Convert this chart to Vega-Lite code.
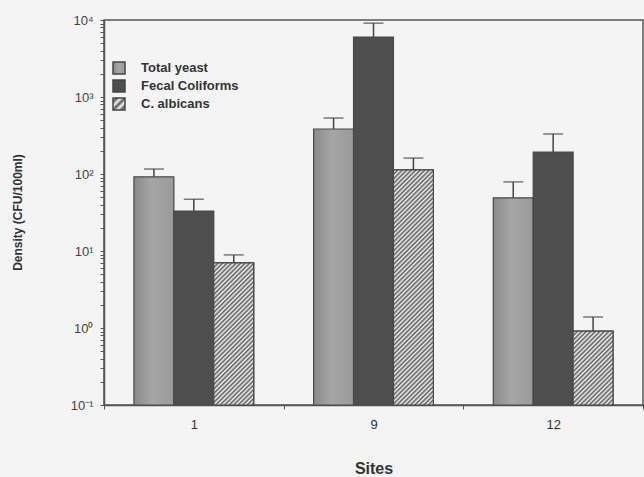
{
  "$schema": "https://vega.github.io/schema/vega-lite/v6.json",
  "width": 539,
  "height": 385,
  "autosize": "none",
  "padding": {"left": 104, "top": 20, "right": 1, "bottom": 72},
  "background": "#f4f4f4",
  "config": {
    "view": {"stroke": "#555", "strokeWidth": 1.5},
    "font": "Liberation Sans"
  },
  "params": [
    {"name": "yeastGrad", "value": {"gradient": "linear", "x1": 0, "y1": 0, "x2": 1, "y2": 0, "stops": [
      {"offset": 0, "color": "#8a8a8a"}, {"offset": 0.45, "color": "#a6a6a6"}, {"offset": 1, "color": "#9a9a9a"}]}},
    {"name": "legendHatch", "value": {"gradient": "linear", "x1": 0, "y1": 0, "x2": 1, "y2": 1, "stops": [
      {"offset": 0, "color": "#f2f2f2"}, {"offset": 0.1667, "color": "#5c5c5c"}, {"offset": 0.3333, "color": "#f2f2f2"},
      {"offset": 0.5, "color": "#5c5c5c"}, {"offset": 0.6667, "color": "#f2f2f2"}, {"offset": 0.8333, "color": "#5c5c5c"},
      {"offset": 1, "color": "#f2f2f2"}]}},
    {"name": "hatchStops", "value": [
      {"offset":0,"color":"#5c5c5c"},{"offset":0.0078,"color":"#f2f2f2"},{"offset":0.0156,"color":"#5c5c5c"},{"offset":0.0234,"color":"#f2f2f2"},
      {"offset":0.0313,"color":"#5c5c5c"},{"offset":0.0391,"color":"#f2f2f2"},{"offset":0.0469,"color":"#5c5c5c"},{"offset":0.0547,"color":"#f2f2f2"},
      {"offset":0.0625,"color":"#5c5c5c"},{"offset":0.0703,"color":"#f2f2f2"},{"offset":0.0781,"color":"#5c5c5c"},{"offset":0.0859,"color":"#f2f2f2"},
      {"offset":0.0938,"color":"#5c5c5c"},{"offset":0.1016,"color":"#f2f2f2"},{"offset":0.1094,"color":"#5c5c5c"},{"offset":0.1172,"color":"#f2f2f2"},
      {"offset":0.125,"color":"#5c5c5c"},{"offset":0.1328,"color":"#f2f2f2"},{"offset":0.1406,"color":"#5c5c5c"},{"offset":0.1484,"color":"#f2f2f2"},
      {"offset":0.1563,"color":"#5c5c5c"},{"offset":0.1641,"color":"#f2f2f2"},{"offset":0.1719,"color":"#5c5c5c"},{"offset":0.1797,"color":"#f2f2f2"},
      {"offset":0.1875,"color":"#5c5c5c"},{"offset":0.1953,"color":"#f2f2f2"},{"offset":0.2031,"color":"#5c5c5c"},{"offset":0.2109,"color":"#f2f2f2"},
      {"offset":0.2188,"color":"#5c5c5c"},{"offset":0.2266,"color":"#f2f2f2"},{"offset":0.2344,"color":"#5c5c5c"},{"offset":0.2422,"color":"#f2f2f2"},
      {"offset":0.25,"color":"#5c5c5c"},{"offset":0.2578,"color":"#f2f2f2"},{"offset":0.2656,"color":"#5c5c5c"},{"offset":0.2734,"color":"#f2f2f2"},
      {"offset":0.2813,"color":"#5c5c5c"},{"offset":0.2891,"color":"#f2f2f2"},{"offset":0.2969,"color":"#5c5c5c"},{"offset":0.3047,"color":"#f2f2f2"},
      {"offset":0.3125,"color":"#5c5c5c"},{"offset":0.3203,"color":"#f2f2f2"},{"offset":0.3281,"color":"#5c5c5c"},{"offset":0.3359,"color":"#f2f2f2"},
      {"offset":0.3438,"color":"#5c5c5c"},{"offset":0.3516,"color":"#f2f2f2"},{"offset":0.3594,"color":"#5c5c5c"},{"offset":0.3672,"color":"#f2f2f2"},
      {"offset":0.375,"color":"#5c5c5c"},{"offset":0.3828,"color":"#f2f2f2"},{"offset":0.3906,"color":"#5c5c5c"},{"offset":0.3984,"color":"#f2f2f2"},
      {"offset":0.4063,"color":"#5c5c5c"},{"offset":0.4141,"color":"#f2f2f2"},{"offset":0.4219,"color":"#5c5c5c"},{"offset":0.4297,"color":"#f2f2f2"},
      {"offset":0.4375,"color":"#5c5c5c"},{"offset":0.4453,"color":"#f2f2f2"},{"offset":0.4531,"color":"#5c5c5c"},{"offset":0.4609,"color":"#f2f2f2"},
      {"offset":0.4688,"color":"#5c5c5c"},{"offset":0.4766,"color":"#f2f2f2"},{"offset":0.4844,"color":"#5c5c5c"},{"offset":0.4922,"color":"#f2f2f2"},
      {"offset":0.5,"color":"#5c5c5c"},{"offset":0.5078,"color":"#f2f2f2"},{"offset":0.5156,"color":"#5c5c5c"},{"offset":0.5234,"color":"#f2f2f2"},
      {"offset":0.5313,"color":"#5c5c5c"},{"offset":0.5391,"color":"#f2f2f2"},{"offset":0.5469,"color":"#5c5c5c"},{"offset":0.5547,"color":"#f2f2f2"},
      {"offset":0.5625,"color":"#5c5c5c"},{"offset":0.5703,"color":"#f2f2f2"},{"offset":0.5781,"color":"#5c5c5c"},{"offset":0.5859,"color":"#f2f2f2"},
      {"offset":0.5938,"color":"#5c5c5c"},{"offset":0.6016,"color":"#f2f2f2"},{"offset":0.6094,"color":"#5c5c5c"},{"offset":0.6172,"color":"#f2f2f2"},
      {"offset":0.625,"color":"#5c5c5c"},{"offset":0.6328,"color":"#f2f2f2"},{"offset":0.6406,"color":"#5c5c5c"},{"offset":0.6484,"color":"#f2f2f2"},
      {"offset":0.6563,"color":"#5c5c5c"},{"offset":0.6641,"color":"#f2f2f2"},{"offset":0.6719,"color":"#5c5c5c"},{"offset":0.6797,"color":"#f2f2f2"},
      {"offset":0.6875,"color":"#5c5c5c"},{"offset":0.6953,"color":"#f2f2f2"},{"offset":0.7031,"color":"#5c5c5c"},{"offset":0.7109,"color":"#f2f2f2"},
      {"offset":0.7188,"color":"#5c5c5c"},{"offset":0.7266,"color":"#f2f2f2"},{"offset":0.7344,"color":"#5c5c5c"},{"offset":0.7422,"color":"#f2f2f2"},
      {"offset":0.75,"color":"#5c5c5c"},{"offset":0.7578,"color":"#f2f2f2"},{"offset":0.7656,"color":"#5c5c5c"},{"offset":0.7734,"color":"#f2f2f2"},
      {"offset":0.7813,"color":"#5c5c5c"},{"offset":0.7891,"color":"#f2f2f2"},{"offset":0.7969,"color":"#5c5c5c"},{"offset":0.8047,"color":"#f2f2f2"},
      {"offset":0.8125,"color":"#5c5c5c"},{"offset":0.8203,"color":"#f2f2f2"},{"offset":0.8281,"color":"#5c5c5c"},{"offset":0.8359,"color":"#f2f2f2"},
      {"offset":0.8438,"color":"#5c5c5c"},{"offset":0.8516,"color":"#f2f2f2"},{"offset":0.8594,"color":"#5c5c5c"},{"offset":0.8672,"color":"#f2f2f2"},
      {"offset":0.875,"color":"#5c5c5c"},{"offset":0.8828,"color":"#f2f2f2"},{"offset":0.8906,"color":"#5c5c5c"},{"offset":0.8984,"color":"#f2f2f2"},
      {"offset":0.9063,"color":"#5c5c5c"},{"offset":0.9141,"color":"#f2f2f2"},{"offset":0.9219,"color":"#5c5c5c"},{"offset":0.9297,"color":"#f2f2f2"},
      {"offset":0.9375,"color":"#5c5c5c"},{"offset":0.9453,"color":"#f2f2f2"},{"offset":0.9531,"color":"#5c5c5c"},{"offset":0.9609,"color":"#f2f2f2"},
      {"offset":0.9688,"color":"#5c5c5c"},{"offset":0.9766,"color":"#f2f2f2"},{"offset":0.9844,"color":"#5c5c5c"},{"offset":0.9922,"color":"#f2f2f2"},
      {"offset":1,"color":"#5c5c5c"}
    ]}
  ],
  "data": {"values": [
    {"site": "1", "series": "Total yeast", "value": 92, "upper": 116},
    {"site": "1", "series": "Fecal Coliforms", "value": 33, "upper": 47},
    {"site": "1", "series": "C. albicans", "value": 7.0, "upper": 8.9},
    {"site": "9", "series": "Total yeast", "value": 384, "upper": 533},
    {"site": "9", "series": "Fecal Coliforms", "value": 6000, "upper": 9100},
    {"site": "9", "series": "C. albicans", "value": 113, "upper": 161},
    {"site": "12", "series": "Total yeast", "value": 49, "upper": 79},
    {"site": "12", "series": "Fecal Coliforms", "value": 193, "upper": 331},
    {"site": "12", "series": "C. albicans", "value": 0.91, "upper": 1.39}
  ]},
  "encoding": {
    "x": {
      "field": "site", "type": "nominal", "sort": ["1", "9", "12"],
      "scale": {"paddingInner": 0, "paddingOuter": 0},
      "axis": {
        "labelAngle": 0, "tickBand": "extent", "tickSize": 4, "tickColor": "#555",
        "domainColor": "#555", "domainWidth": 1.5, "labelPadding": 9,
        "labelFontSize": 13, "labelColor": "#333", "grid": false,
        "title": "Sites", "titleFontSize": 16, "titleFontWeight": "bold", "titleColor": "#333",
        "titleY": 63, "titleBaseline": "middle"
      }
    },
    "xOffset": {
      "field": "series", "type": "nominal",
      "sort": ["Total yeast", "Fecal Coliforms", "C. albicans"],
      "scale": {"paddingOuter": 0.75, "paddingInner": 0}
    }
  },
  "layer": [
    {
      "mark": {"type": "bar", "stroke": "#484848", "strokeWidth": 1.2},
      "encoding": {
        "y": {
          "field": "value", "type": "quantitative",
          "scale": {"type": "log", "domain": [0.1, 10000], "nice": false},
          "axis": {
            "orient": "left",
            "values": [0.1, 0.2, 0.3, 0.4, 0.5, 0.6, 0.7, 0.8, 0.9, 1, 2, 3, 4, 5, 6, 7, 8, 9, 10, 20, 30, 40, 50, 60, 70, 80, 90, 100, 200, 300, 400, 500, 600, 700, 800, 900, 1000, 2000, 3000, 4000, 5000, 6000, 7000, 8000, 9000, 10000],
            "labelExpr": "datum.value == 10000 ? '10⁴' : datum.value == 1000 ? '10³' : datum.value == 100 ? '10²' : datum.value == 10 ? '10¹' : datum.value == 1 ? '10⁰' : datum.value == 0.1 ? '10⁻¹' : ''",
            "tickSize": 4, "tickColor": "#555", "domainColor": "#555", "domainWidth": 1.5,
            "labelPadding": 7, "labelFontSize": 13, "labelColor": "#444", "grid": false,
            "labelOverlap": false,
            "title": "Density (CFU/100ml)", "titleFontSize": 12, "titleFontWeight": "bold", "titleColor": "#333",
            "titleX": -87, "titleY": 192, "titleAngle": -90, "titleAlign": "center", "titleBaseline": "middle"
          }
        },
        "y2": {"datum": 0.1},
        "color": {
          "field": "series", "type": "nominal",
          "sort": ["Total yeast", "Fecal Coliforms", "C. albicans"],
          "scale": {
            "domain": ["Total yeast", "Fecal Coliforms", "C. albicans"],
            "range": [{"expr": "yeastGrad"}, "#4e4e4e", {"expr": "legendHatch"}]
          },
          "legend": {
            "orient": "none", "legendX": 8, "legendY": 41, "title": null,
            "symbolType": "square", "symbolSize": 144, "symbolStrokeColor": "#444", "symbolStrokeWidth": 1.5,
            "labelFontSize": 13, "labelFontWeight": "bold", "labelColor": "#333",
            "labelOffset": 15, "rowPadding": 0
          }
        }
      }
    },
    {
      "transform": [{"filter": "datum.series === 'C. albicans'"}],
      "mark": {
        "type": "bar", "stroke": "#484848", "strokeWidth": 1.2,
        "fill": {"expr": "{gradient: 'linear', x1: 0, y1: 0, x2: 288*bandwidth('xOffset')/(pow(bandwidth('xOffset'),2)+pow(scale('y',0.1)-scale('y',datum.value),2)), y2: 288*(scale('y',0.1)-scale('y',datum.value))/(pow(bandwidth('xOffset'),2)+pow(scale('y',0.1)-scale('y',datum.value),2)), stops: hatchStops}"}
      },
      "encoding": {
        "y": {"field": "value", "type": "quantitative"},
        "y2": {"datum": 0.1}
      }
    },
    {
      "mark": {"type": "rule", "color": "#444", "strokeWidth": 1.5},
      "encoding": {
        "y": {"field": "value", "type": "quantitative"},
        "y2": {"field": "upper"}
      }
    },
    {
      "mark": {"type": "tick", "color": "#444", "size": 20, "thickness": 1.5},
      "encoding": {
        "y": {"field": "upper", "type": "quantitative"}
      }
    }
  ]
}
